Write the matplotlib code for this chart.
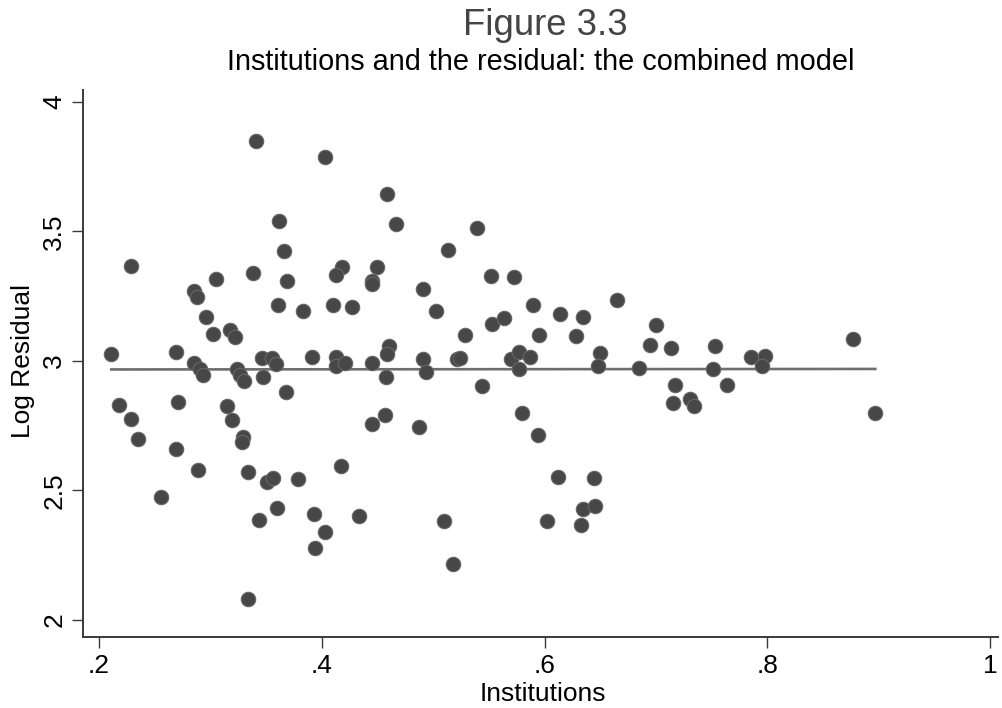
import matplotlib
matplotlib.use("Agg")
import matplotlib.pyplot as plt
import numpy as np

plt.rcParams['font.family'] = ['Liberation Sans', 'DejaVu Sans']

# Data
institutions = [
    0.341, 0.403, 0.362, 0.366, 0.229, 0.305, 0.338, 0.369, 0.285, 0.288,
    0.418, 0.413, 0.450, 0.445, 0.445, 0.361, 0.383, 0.410, 0.427, 0.296,
    0.302, 0.318, 0.322, 0.211, 0.269, 0.285, 0.291, 0.293, 0.324, 0.327,
    0.330, 0.346, 0.355, 0.359, 0.347, 0.391, 0.413, 0.413, 0.421, 0.445,
    0.368, 0.218, 0.271, 0.229, 0.235, 0.315, 0.319, 0.329, 0.328, 0.269,
    0.289, 0.334, 0.351, 0.356, 0.379, 0.417, 0.445, 0.256, 0.360, 0.344,
    0.393, 0.433, 0.403, 0.394, 0.334, 0.459, 0.467, 0.539, 0.513, 0.491,
    0.552, 0.573, 0.503, 0.590, 0.614, 0.635, 0.665, 0.529, 0.553, 0.564,
    0.595, 0.628, 0.700, 0.695, 0.460, 0.459, 0.458, 0.491, 0.494, 0.521,
    0.524, 0.570, 0.577, 0.587, 0.577, 0.650, 0.648, 0.685, 0.544, 0.457,
    0.487, 0.580, 0.594, 0.510, 0.518, 0.612, 0.644, 0.602, 0.635, 0.645,
    0.633, 0.714, 0.753, 0.785, 0.798, 0.795, 0.751, 0.717, 0.764, 0.715,
    0.731, 0.734, 0.877, 0.897,
]
log_residual = [
    3.851, 3.789, 3.541, 3.426, 3.367, 3.317, 3.339, 3.309, 3.268, 3.248,
    3.363, 3.332, 3.364, 3.310, 3.298, 3.215, 3.193, 3.215, 3.210, 3.169,
    3.104, 3.121, 3.093, 3.026, 3.034, 2.992, 2.969, 2.946, 2.969, 2.946,
    2.924, 3.010, 3.010, 2.987, 2.939, 3.014, 3.017, 2.982, 2.991, 2.991,
    2.879, 2.830, 2.840, 2.776, 2.698, 2.824, 2.772, 2.705, 2.685, 2.658,
    2.579, 2.571, 2.534, 2.547, 2.543, 2.595, 2.755, 2.476, 2.431, 2.386,
    2.409, 2.403, 2.339, 2.279, 2.082, 3.646, 3.530, 3.512, 3.427, 3.277,
    3.327, 3.324, 3.192, 3.216, 3.181, 3.171, 3.234, 3.099, 3.144, 3.167,
    3.099, 3.098, 3.139, 3.061, 3.059, 3.027, 2.939, 3.006, 2.956, 3.006,
    3.010, 3.009, 3.036, 3.017, 2.968, 3.030, 2.982, 2.972, 2.903, 2.792,
    2.743, 2.798, 2.713, 2.383, 2.217, 2.551, 2.547, 2.383, 2.427, 2.440,
    2.366, 3.049, 3.059, 3.014, 3.019, 2.980, 2.969, 2.908, 2.906, 2.838,
    2.852, 2.824, 3.084, 2.797,
]
fit_x = [0.211, 0.897]
fit_y = [2.967, 2.969]

x_ticks = [0.2, 0.4, 0.6, 0.8, 1.0]
x_ticklabels = ['.2', '.4', '.6', '.8', '1']
y_ticks = [2, 2.5, 3, 3.5, 4]
y_ticklabels = ['2', '2.5', '3', '3.5', '4']

fig = plt.figure(figsize=(10.02, 7.08), dpi=100)
ax = fig.add_axes([83 / 1002, 71 / 708, 915 / 1002, 547 / 708])

ax.scatter(institutions, log_residual, s=108, color='#474747',
           edgecolors='#666666', linewidths=0.8, zorder=3)
ax.plot(fit_x, fit_y, color='#6e6e6e', lw=1.9, zorder=2)

ax.set_xlim(0.1856, 1.0072)
ax.set_ylim(1.934, 4.046)

for s in ['top', 'right']:
    ax.spines[s].set_visible(False)
for s in ['left', 'bottom']:
    ax.spines[s].set_color('#3a3a3a')
    ax.spines[s].set_linewidth(1.4)

ax.set_xticks(x_ticks)
ax.set_xticklabels(x_ticklabels)
ax.set_yticks(y_ticks)
ax.set_yticklabels(y_ticklabels, rotation=90, va='center')

ax.tick_params(axis='both', direction='out', length=8, width=1.0,
               color='#3a3a3a', labelsize=19, labelcolor='black')
ax.tick_params(axis='x', pad=4)
ax.tick_params(axis='y', pad=4)

fig.text(545 / 1002, 1 - 35 / 708, 'Figure 3.3', ha='center', va='baseline',
         fontsize=26.3, color='#444444')
fig.text(541 / 1002, 1 - 70 / 708,
         'Institutions and the residual: the combined model',
         ha='center', va='baseline', fontsize=20.8, color='black')
fig.text(543 / 1002, 1 - 701 / 708, 'Institutions', ha='center',
         va='baseline', fontsize=19, color='black')
fig.text(23 / 1002, 1 - 361.5 / 708, 'Log Residual', ha='center',
         va='center', rotation=90, fontsize=19, color='black')

fig.savefig('out.png', dpi=100)
